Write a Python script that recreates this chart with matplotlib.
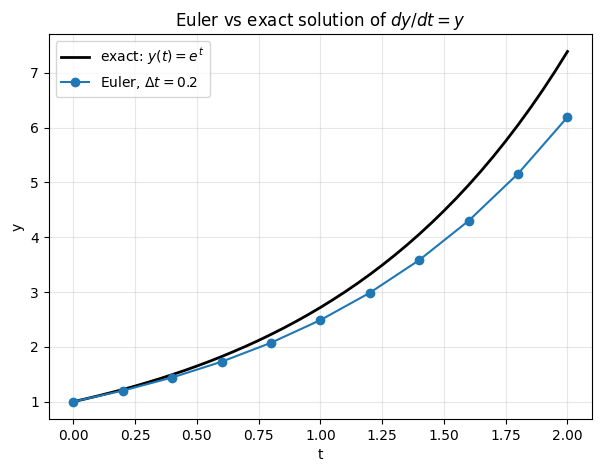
import matplotlib
matplotlib.use("Agg")
import matplotlib.pyplot as plt

# exact curve, values every 0.05
t_exact = [0.00, 0.05, 0.10, 0.15, 0.20, 0.25, 0.30, 0.35, 0.40, 0.45, 0.50,
           0.55, 0.60, 0.65, 0.70, 0.75, 0.80, 0.85, 0.90, 0.95, 1.00,
           1.05, 1.10, 1.15, 1.20, 1.25, 1.30, 1.35, 1.40, 1.45, 1.50,
           1.55, 1.60, 1.65, 1.70, 1.75, 1.80, 1.85, 1.90, 1.95, 2.00]
y_exact = [1.000, 1.051, 1.105, 1.162, 1.221, 1.284, 1.350, 1.419, 1.492, 1.568, 1.649,
           1.733, 1.822, 1.916, 2.014, 2.117, 2.226, 2.340, 2.460, 2.586, 2.718,
           2.858, 3.004, 3.158, 3.320, 3.490, 3.669, 3.857, 4.055, 4.263, 4.482,
           4.711, 4.953, 5.207, 5.474, 5.755, 6.050, 6.360, 6.686, 7.029, 7.389]

# Euler points
t_euler = [0.0, 0.2, 0.4, 0.6, 0.8, 1.0, 1.2, 1.4, 1.6, 1.8, 2.0]
y_euler = [1.000, 1.200, 1.440, 1.728, 2.074, 2.488, 2.986, 3.583, 4.300, 5.160, 6.192]

fig, ax = plt.subplots(figsize=(6, 4.72), dpi=100)
fig.subplots_adjust(left=0.081, right=0.987, top=0.928, bottom=0.112)
ax.plot(t_exact, y_exact, color="black", lw=2, label=r"exact: $y(t)=e^t$")
ax.plot(t_euler, y_euler, "o-", color="tab:blue", label=r"Euler, $\Delta t=0.2$")
ax.set_title(r"Euler vs exact solution of $dy/dt = y$")
ax.set_xlabel("t")
ax.set_ylabel("y")
ax.grid(True, alpha=0.3)
ax.legend(loc="upper left")
fig.savefig("out.png")
